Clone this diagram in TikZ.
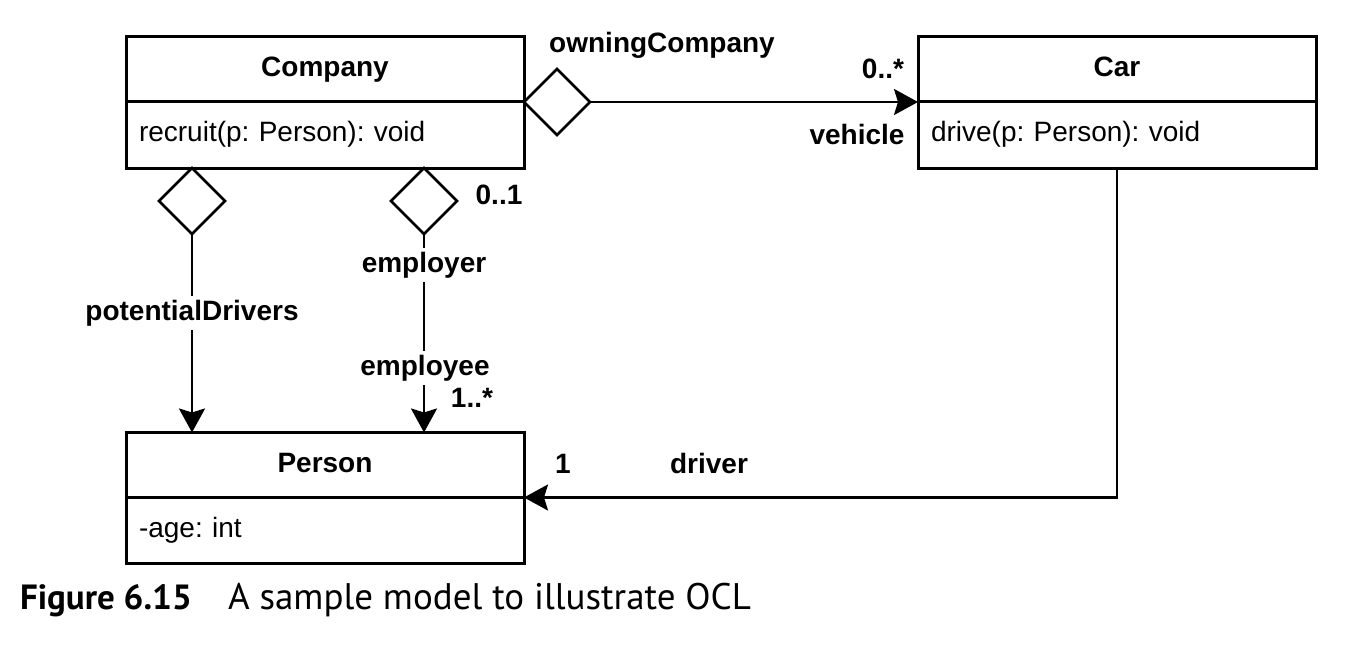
\documentclass[tikz,border=0pt]{standalone}
\usepackage{fontspec}
\setmainfont{Liberation Sans}
\newfontfamily\capfont{PT Sans}
\usetikzlibrary{shapes.geometric,arrows.meta}
\frenchspacing
\tikzset{
  every node/.style={outer sep=0pt},
  txt/.style={font=\fontsize{28}{34}\selectfont, inner sep=0pt, text height=20pt, text depth=6pt},
  lbl/.style={txt, font=\fontsize{28}{34}\selectfont\bfseries},
  lblw/.style={lbl, fill=white, inner ysep=4pt, inner xsep=2pt},
  hdr/.style={draw, line width=3pt, minimum width=398pt, minimum height=65pt, inner sep=0pt,
    font=\fontsize{28}{34}\selectfont\bfseries, text height=20pt, text depth=6pt},
  bdy/.style={draw, line width=3pt, minimum width=398pt, minimum height=66pt, text width=372pt,
    align=left, inner xsep=13pt, inner ysep=0pt, font=\fontsize{28}{34}\selectfont\frenchspacing,
    text height=20pt, text depth=6pt},
  dia/.style={diamond, draw, line width=2.5pt, fill=white, minimum width=66pt, minimum height=66pt, inner sep=0pt},
  assoc/.style={line width=2.6pt, -{Stealth[length=24pt,width=26pt,inset=4pt]}},
  captext/.style={font=\capfont\fontsize{37}{42}\selectfont, inner sep=0pt, anchor=base west}
}
\begin{document}
\begin{tikzpicture}[x=1pt,y=-1pt]
\useasboundingbox (0,0) rectangle (1362,650);
% classes
\node[hdr] (company) at (325,69.5) {Company};
\node[bdy, anchor=north] (companyb) at (company.south) {recruit(p: Person): void};
\node[hdr] (car) at (1117,69.5) {Car};
\node[bdy, anchor=north] (carb) at (car.south) {drive(p: Person): void};
\node[hdr] (person) at (325,465) {Person};
\node[bdy, anchor=north] (personb) at (person.south) {-age: int};
% diamonds
\node[dia, anchor=west] (d1) at (companyb.north east) {};
\node[dia, anchor=north] (d2) at (192,168) {};
\node[dia, anchor=north] (d3) at (424,168) {};
% connectors
\draw[assoc] (d1.east) -- (carb.north west);
\draw[assoc] (d2.south) -- (d2.south |- person.north);
\draw[assoc] (d3.south) -- (d3.south |- person.north);
\draw[assoc] (carb.south) |- (personb.north east);
% labels
\node[lbl] (lown) at (662,46) {owningCompany};
\node[lbl] (lmany) at (883,72) {0..*};
\node[lbl] (lveh) at (857,137) {vehicle};
\node[lbl] (lzo) at (499,197) {0..1};
\node[lblw] (lemployer) at (424,265) {employer};
\node[lblw] (lpot) at (192,313) {potentialDrivers};
\node[lblw] (lemployee) at (425,368) {employee};
\node[lbl] (lom) at (472,400) {1..*};
\node[lbl] (lone) at (563,466) {1};
\node[lbl] (ldriver) at (709,466) {driver};
% caption
\node[captext, font=\capfont\fontsize{35}{42}\selectfont] (capnum) at (20,609) {\bfseries Figure 6.15};
\node[captext] (captxt) at (228,609) {A sample model to illustrate OCL};
\end{tikzpicture}
\end{document}
